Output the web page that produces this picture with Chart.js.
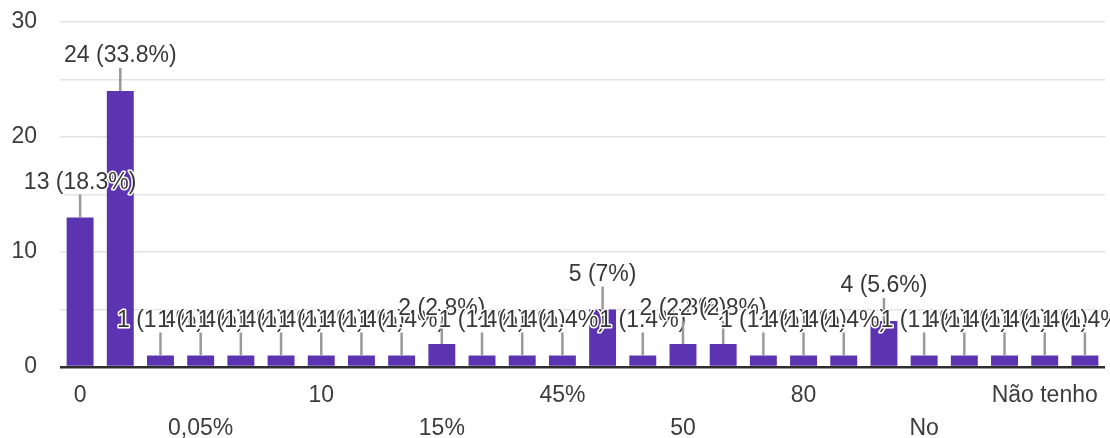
<!DOCTYPE html>
<html>
<head>
<meta charset="utf-8">
<script src="https://cdn.jsdelivr.net/npm/chart.js@4/dist/chart.umd.min.js"></script>
<style>
  html, body { margin: 0; padding: 0; background: #fff; }
  canvas { display: block; }
</style>
</head>
<body>
<canvas id="answersChart" width="1110" height="438"></canvas>
<script>
// Answer categories (only every third label is readable in the chart)
const categories = ['0', '', '', '0,05%', '', '', '10', '', '', '15%', '', '', '45%', '', '', '50', '', '', '80', '', '', 'No', '', '', 'Não tenho', ''];
// Number of responses per category
const counts = [13, 24, 1, 1, 1, 1, 1, 1, 1, 2, 1, 1, 1, 5, 1, 2, 2, 1, 1, 1, 4, 1, 1, 1, 1, 1];
// Y axis
const yMax = 30;
const yStep = 5;
const yLabelStep = 10;

const total = counts.reduce((a, b) => a + b, 0);
const FONT = '"Liberation Sans", Arial, sans-serif';

function pctText(v) {
    const p = Math.round(v / total * 1000) / 10;
    return v + ' (' + p + '%)';
}

// Draws the "N (p%)" annotations with leader lines, Google Forms style
const annotations = {
    id: 'annotations',
    afterDatasetsDraw(chart) {
        const ctx = chart.ctx;
        const meta = chart.getDatasetMeta(0);
        ctx.save();
        ctx.font = '23px ' + FONT;
        ctx.textAlign = 'center';
        ctx.textBaseline = 'middle';
        ctx.lineJoin = 'round';
        meta.data.forEach((bar, i) => {
            const x = bar.x, top = bar.y;
            ctx.strokeStyle = '#9a9a9a';
            ctx.lineWidth = 2.5;
            ctx.beginPath();
            ctx.moveTo(x, top - 23);
            ctx.lineTo(x, top);
            ctx.stroke();
            const txt = pctText(counts[i]);
            ctx.strokeStyle = '#ffffff';
            ctx.lineWidth = 3;
            ctx.strokeText(txt, x, top - 35);
            ctx.fillStyle = '#383838';
            ctx.fillText(txt, x, top - 35);
        });
        ctx.restore();
    }
};

new Chart(document.getElementById('answersChart'), {
    type: 'bar',
    data: {
        labels: categories,
        datasets: [{
            data: counts,
            backgroundColor: '#5c33b0',
            categoryPercentage: 1,
            barPercentage: 0.67
        }]
    },
    options: {
        responsive: false,
        animation: false,
        layout: { padding: { top: 22, right: 5, left: 0, bottom: 0 } },
        plugins: {
            legend: { display: false },
            tooltip: { enabled: false }
        },
        scales: {
            x: {
                grid: { display: false },
                border: { display: false },
                ticks: {
                    autoSkip: false,
                    maxRotation: 0,
                    padding: 5,
                    color: '#3c3c3c',
                    font: { family: FONT, size: 23, lineHeight: 1.4 },
                    callback: function(value, index) {
                        const lab = categories[index];
                        if (!lab) return '';
                        return (index % 6 === 3) ? ['', lab] : lab;
                    }
                },
                afterFit: function(scale) {
                    scale.height = 71;
                    scale.paddingLeft = 0;
                    scale.paddingRight = 0;
                }
            },
            y: {
                min: 0,
                max: yMax,
                grid: {
                    drawTicks: false,
                    color: ctx => ctx.tick && ctx.tick.value === 0 ? '#2e2e2e' : '#e4e4e4',
                    lineWidth: ctx => ctx.tick && ctx.tick.value === 0 ? 2.5 : 1.5
                },
                border: { display: false },
                ticks: {
                    stepSize: yStep,
                    padding: 23,
                    color: '#3c3c3c',
                    font: { family: FONT, size: 23 },
                    callback: v => (v % yLabelStep === 0 ? v : '')
                },
                afterFit: function(scale) {
                    scale.width = 60;
                    scale.paddingTop = 0;
                    scale.paddingBottom = 0;
                }
            }
        }
    },
    plugins: [annotations]
});
</script>
</body>
</html>
